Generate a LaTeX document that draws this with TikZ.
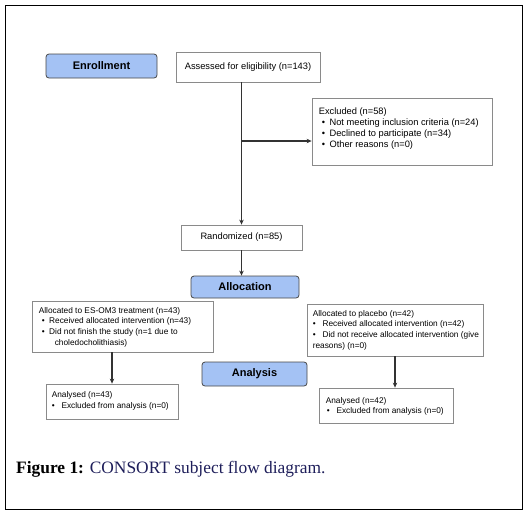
\documentclass[tikz,border=0pt]{standalone}
\usepackage{fontspec}
\setmainfont{Liberation Serif}
\newfontfamily\arial{Liberation Sans}
\usetikzlibrary{arrows.meta,positioning}
\definecolor{ink}{HTML}{333333}
\definecolor{edge}{HTML}{8A8A8A}
\definecolor{stage}{HTML}{A4C2F4}
\definecolor{navy}{HTML}{1E1E5A}
\newcommand{\itm}[1][3pt]{\hspace*{#1}\textbullet\hspace{4.5pt}}

\begin{document}
\begin{tikzpicture}[x=1pt,y=-1pt,
    box/.style={draw=edge,fill=white,inner sep=0pt,line width=0.8pt},
    txt/.style={anchor=north west,align=left,inner sep=0pt,
      font=\arial\fontsize{8.3}{10.6}\selectfont},
    bigtxt/.style={font=\arial\fontsize{9.3}{11}\selectfont},
    stage/.style={draw=ink!90,fill=stage,rounded corners=3pt,inner sep=0pt,line width=0.8pt,
      font=\arial\bfseries\fontsize{11}{13}\selectfont},
    arr/.style={-{Stealth[length=5pt,width=4.5pt]},ink,line width=1.2pt}]
  \useasboundingbox (0,0) rectangle (528,515);
  \draw[black,line width=1pt] (5,5) rectangle (522,509);
  % stage labels
  \node[stage,minimum width=111,minimum height=24] (enrol) at (101.5,66) {Enrollment};
  \node[stage,minimum width=108,minimum height=22] (alloc) at (245,287) {Allocation};
  \node[stage,minimum width=105,minimum height=24] (anal) at (254.5,374) {Analysis};
  % boxes
  \node[box,bigtxt,minimum width=144,minimum height=30]
    (assess) at (248,67) {Assessed for eligibility (n=143)};
  \node[box,minimum width=180,minimum height=67] (excl) at (402,131.5) {};
  \node[txt,bigtxt] (exclt) at ([shift={(7,9.5)}]excl.north west)
    {Excluded (n=58)\\\itm Not meeting inclusion criteria (n=24)\\
     \itm Declined to participate (n=34)\\\itm Other reasons (n=0)};
  \node[box,bigtxt,minimum width=121,minimum height=25]
    (rand) at (241.5,237.5) {Randomized (n=85)};
  \node[box,minimum width=181,minimum height=51] (esom) at (122.5,326.5) {};
  \node[txt] (esomt) at ([shift={(7,6.5)}]esom.north west)
    {Allocated to ES-OM3 treatment (n=43)\\\itm Received allocated intervention (n=43)\\
     \itm Did not finish the study (n=1 due to\\\hspace*{16pt}choledocholithiasis)};
  \node[box,minimum width=176,minimum height=52] (plac) at (395,330) {};
  \node[txt] (plact) at ([shift={(6,6.5)}]plac.north west)
    {Allocated to placebo (n=42)\\\itm[0pt] Received allocated intervention (n=42)\\
     \itm[0pt] Did not receive allocated intervention (give\\reasons) (n=0)};
  \node[box,minimum width=132,minimum height=35] (anl) at (112,401.5) {};
  \node[txt] (anlt) at ([shift={(6,8)}]anl.north west)
    {Analysed (n=43)\\\itm[0pt] Excluded from analysis (n=0)};
  \node[box,minimum width=134,minimum height=35] (anr) at (386,405.5) {};
  \node[txt] (anrt) at ([shift={(7,9.5)}]anr.north west)
    {Analysed (n=42)\\\itm[1pt] Excluded from analysis (n=0)};
  % connectors
  \coordinate (br) at (rand.north |- 0,141);
  \draw[arr] (rand.north |- assess.south) -- (rand.north);
  \draw[arr] (br) -- (br -| excl.west);
  \draw[arr] (rand.south) -- (rand.south |- alloc.north);
  \draw[arr] (anl.north |- esom.south) -- (anl.north);
  \draw[arr] (plac.south) -- (plac.south |- anr.north);
  % caption
  \node[anchor=base west,inner sep=0pt,font=\fontsize{17.4}{20}\selectfont] (cap) at (16,473)
    {\textbf{Figure 1:} \textcolor{navy}{CONSORT subject flow diagram.}};
\end{tikzpicture}
\end{document}
